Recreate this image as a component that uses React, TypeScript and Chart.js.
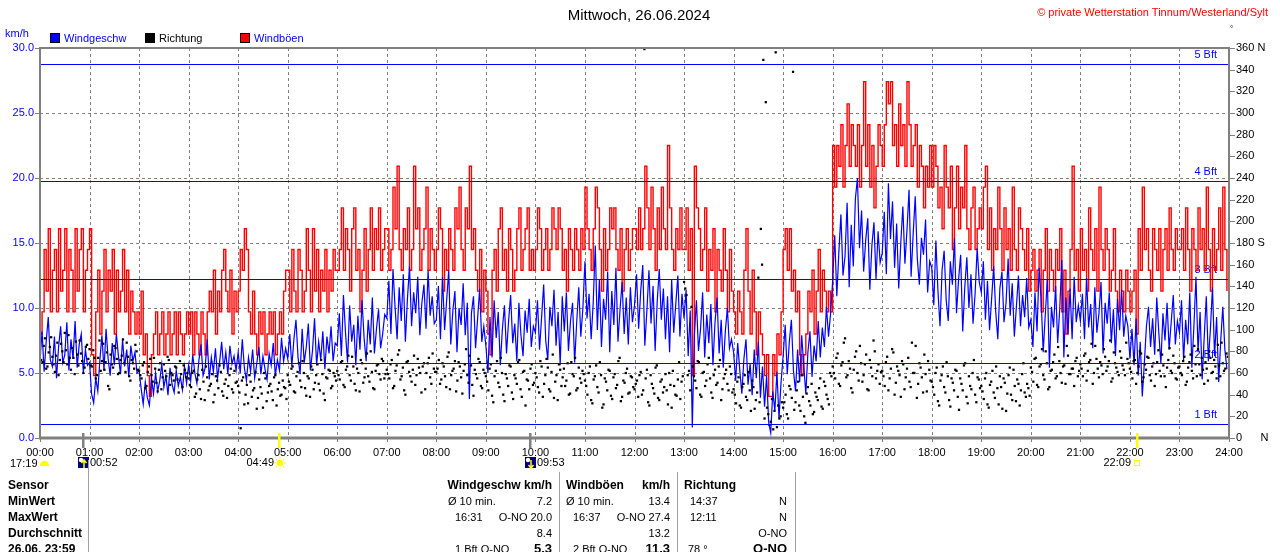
import React, { useEffect, useRef } from "react";
import { Chart, registerables } from "chart.js";

Chart.register(...registerables);

// ---------- data ----------
const hourLabels = [
  "00:00", "01:00", "02:00", "03:00", "04:00", "05:00", "06:00", "07:00", "08:00",
  "09:00", "10:00", "11:00", "12:00", "13:00", "14:00", "15:00", "16:00", "17:00",
  "18:00", "19:00", "20:00", "21:00", "22:00", "23:00", "24:00",
];

// one value every 2.5 minutes (24 per hour)
const speedStepMin = 2.5;
const speedKmh = [
  6.0, 8.2, 5.1, 7.4, 9.3, 6.0, 5.5, 7.8, 4.6, 7.0, 8.6, 5.8, 6.4, 8.9, 5.2, 7.6, 6.1, 9.0, 5.4, 7.2, 8.0, 5.0, 6.8, 5.6,
  5.8, 3.4, 2.7, 4.6, 3.6, 6.0, 7.9, 5.2, 8.4, 6.1, 4.8, 7.3, 5.6, 8.0, 6.3, 4.9, 7.6, 5.5, 6.8, 4.7, 7.1, 5.9, 6.6, 5.0,
  5.2, 3.8, 2.6, 4.3, 3.1, 2.5, 4.6, 3.4, 5.0, 3.6, 4.4, 5.7, 3.9, 4.8, 3.3, 5.4, 4.1, 3.5, 5.2, 4.0, 4.7, 3.7, 5.5, 4.2,
  5.6, 4.4, 6.4, 5.0, 4.2, 6.0, 7.2, 4.8, 5.4, 7.6, 4.5, 6.2, 5.1, 6.9, 4.6, 5.8, 7.4, 5.3, 6.6, 4.9, 7.1, 5.7, 6.3, 5.2,
  6.6, 5.0, 7.6, 5.4, 4.4, 6.2, 5.1, 6.8, 4.6, 5.7, 7.0, 4.9, 6.3, 5.3, 4.5, 6.5, 5.6, 7.3, 4.8, 6.0, 5.2, 7.7, 5.9, 6.9,
  6.1, 8.0, 5.5, 7.6, 9.1, 6.2, 4.9, 8.4, 5.8, 7.0, 8.8, 5.2, 6.7, 9.2, 5.6, 7.4, 6.0, 8.2, 5.3, 7.8, 6.5, 8.6, 5.9, 7.3,
  7.1, 9.6, 6.3, 11.0, 8.1, 5.8, 10.2, 7.4, 8.7, 5.6, 9.4, 6.8, 10.6, 7.7, 5.9, 9.1, 7.2, 10.8, 6.5, 8.4, 9.9, 6.9, 8.0, 9.5,
  9.2, 12.1, 8.0, 13.0, 10.1, 7.6, 11.6, 9.0, 12.6, 7.4, 10.7, 13.2, 8.6, 11.2, 9.6, 12.4, 7.9, 10.4, 11.8, 8.4, 12.9, 9.4, 10.9, 8.8,
  9.1, 11.7, 7.6, 12.4, 8.3, 10.6, 12.9, 7.2, 9.8, 11.3, 6.6, 10.0, 8.7, 11.9, 7.9, 10.4, 3.0, 9.6, 10.9, 6.9, 9.2, 11.5, 7.4, 8.6,
  7.1, 5.0, 9.3, 6.2, 10.6, 7.7, 9.7, 5.6, 8.4, 10.2, 6.5, 9.0, 11.0, 7.3, 8.8, 5.9, 10.4, 7.9, 6.3, 9.8, 8.1, 10.7, 7.0, 8.6,
  8.1, 10.6, 6.8, 9.3, 11.8, 7.5, 6.0, 10.1, 8.6, 11.4, 7.1, 9.7, 5.6, 10.9, 8.2, 11.2, 6.7, 9.0, 10.4, 5.8, 8.9, 11.6, 7.8, 10.0,
  13.6, 9.2, 11.1, 7.6, 10.4, 14.8, 8.3, 12.2, 7.0, 10.7, 9.1, 12.8, 6.6, 11.3, 8.7, 13.1, 7.4, 9.9, 12.0, 8.0, 10.8, 7.2, 11.6, 8.9,
  10.2, 12.6, 8.4, 11.3, 13.3, 7.1, 9.8, 12.9, 8.8, 11.7, 6.7, 10.5, 13.0, 9.1, 11.5, 7.6, 10.9, 6.6, 12.2, 8.1, 10.3, 12.5, 7.8, 11.1,
  9.2, 11.4, 6.3, 9.8, 0.8, 7.9, 10.6, 6.7, 8.4, 11.2, 6.2, 9.5, 7.3, 10.3, 5.6, 8.9, 10.8, 6.5, 9.1, 5.4, 8.2, 10.0, 6.9, 7.6,
  6.6, 4.4, 7.3, 5.2, 3.4, 6.1, 7.6, 4.1, 5.7, 3.3, 6.8, 4.6, 7.4, 3.1, 5.5, 2.4, 4.8, 1.2, 0.4, 3.6, 2.1, 5.1, 1.5, 4.3,
  6.3, 8.7, 4.9, 7.4, 9.1, 5.2, 3.6, 6.8, 4.3, 7.9, 5.5, 3.4, 6.6, 8.2, 4.7, 7.1, 5.9, 9.0, 6.2, 8.5, 7.0, 10.1, 7.8, 9.6,
  12.1, 15.6, 10.9, 14.3, 17.2, 12.5, 14.0, 18.1, 11.6, 16.4, 13.2, 18.4, 20.0, 14.6, 17.5, 12.8, 15.2, 16.9, 11.4, 14.8, 16.6, 12.2, 15.9, 13.5,
  14.2, 17.4, 12.6, 19.6, 15.3, 18.2, 13.1, 16.5, 11.5, 15.0, 17.8, 13.4, 16.0, 19.1, 12.4, 15.7, 18.6, 13.8, 11.8, 15.4, 14.1, 16.8, 11.2, 13.6,
  13.1, 10.2, 15.2, 11.3, 8.6, 12.9, 14.4, 10.6, 9.0, 13.6, 11.8, 15.4, 9.6, 12.2, 14.1, 8.2, 11.6, 13.9, 10.0, 12.6, 8.8, 11.1, 14.6, 12.0,
  11.2, 13.6, 9.1, 12.1, 8.3, 10.7, 13.2, 9.7, 7.6, 11.5, 12.8, 8.9, 10.4, 13.8, 9.4, 11.9, 7.8, 10.1, 12.5, 8.6, 11.0, 9.3, 12.3, 8.5,
  9.1, 7.0, 11.2, 8.2, 13.1, 10.6, 6.6, 9.5, 12.2, 5.4, 10.1, 8.5, 11.7, 7.3, 9.9, 13.7, 6.2, 10.8, 8.0, 11.5, 7.6, 12.4, 8.9, 10.2,
  9.0, 11.1, 7.6, 12.3, 8.5, 10.3, 6.9, 11.6, 8.1, 9.6, 12.0, 6.5, 10.4, 8.8, 11.2, 7.3, 9.9, 6.3, 10.7, 8.3, 11.4, 7.8, 9.4, 8.6,
  6.1, 8.4, 5.6, 9.2, 4.8, 7.4, 3.2, 5.8, 8.6, 10.1, 7.0, 9.2, 6.4, 10.8, 8.1, 5.7, 9.6, 7.5, 10.4, 6.8, 8.9, 11.0, 7.2, 9.0,
  8.1, 10.6, 6.0, 9.1, 7.2, 11.2, 5.4, 8.6, 12.4, 6.6, 9.7, 4.5, 7.8, 10.9, 5.9, 8.4, 11.6, 6.3, 9.3, 4.3, 7.5, 10.1, 6.8, 5.3,
];

const gustKmh = [
  8.0, 9.7, 14.5, 11.3, 16.1, 9.7, 12.9, 14.5, 9.7, 16.1, 11.3, 12.9, 16.1, 9.7, 14.5, 12.9, 9.7, 16.1, 11.3, 14.5, 16.1, 9.7, 12.9, 14.5,
  16.1, 6.4, 4.8, 9.7, 12.9, 8.0, 11.3, 14.5, 9.7, 12.9, 11.3, 14.5, 8.0, 12.9, 9.7, 11.3, 14.5, 9.7, 12.9, 8.0, 11.3, 9.7, 8.0, 9.7,
  8.0, 11.3, 6.4, 8.0, 4.8, 3.2, 6.4, 8.0, 9.7, 6.4, 8.0, 9.7, 6.4, 8.0, 9.7, 6.4, 8.0, 9.7, 6.4, 9.7, 8.0, 6.4, 8.0, 9.7,
  8.0, 9.7, 6.4, 9.7, 8.0, 6.4, 9.7, 8.0, 6.4, 9.7, 11.3, 9.7, 12.9, 8.0, 11.3, 9.7, 12.9, 14.5, 11.3, 9.7, 12.9, 8.0, 11.3, 9.7,
  11.3, 14.5, 12.9, 16.1, 14.5, 9.7, 8.0, 11.3, 8.0, 6.4, 9.7, 8.0, 9.7, 6.4, 8.0, 9.7, 8.0, 9.7, 6.4, 8.0, 9.7, 8.0, 11.3, 12.9,
  12.9, 9.7, 14.5, 11.3, 9.7, 14.5, 12.9, 9.7, 11.3, 16.1, 12.9, 9.7, 16.1, 11.3, 14.5, 9.7, 12.9, 11.3, 14.5, 9.7, 12.9, 11.3, 14.5, 12.9,
  12.9, 14.5, 17.7, 12.9, 16.1, 14.5, 11.3, 16.1, 17.7, 12.9, 14.5, 9.7, 12.9, 16.1, 11.3, 14.5, 17.7, 12.9, 16.1, 14.5, 17.7, 12.9, 14.5, 16.1,
  16.1, 12.9, 14.5, 19.3, 16.1, 20.9, 14.5, 12.9, 16.1, 14.5, 17.7, 12.9, 14.5, 20.9, 16.1, 17.7, 12.9, 14.5, 16.1, 19.3, 12.9, 16.1, 14.5, 12.9,
  14.5, 17.7, 16.1, 11.3, 14.5, 12.9, 16.1, 14.5, 12.9, 17.7, 16.1, 19.3, 14.5, 12.9, 17.7, 16.1, 20.9, 14.5, 16.1, 12.9, 11.3, 14.5, 9.7, 12.9,
  11.3, 8.0, 6.4, 12.9, 14.5, 11.3, 16.1, 17.7, 12.9, 14.5, 11.3, 16.1, 14.5, 11.3, 12.9, 16.1, 17.7, 12.9, 14.5, 16.1, 17.7, 12.9, 14.5, 12.9,
  14.5, 17.7, 16.1, 12.9, 14.5, 16.1, 12.9, 14.5, 17.7, 16.1, 14.5, 17.7, 16.1, 12.9, 14.5, 11.3, 16.1, 14.5, 12.9, 16.1, 14.5, 12.9, 16.1, 14.5,
  19.3, 16.1, 14.5, 12.9, 16.1, 19.3, 17.7, 14.5, 11.3, 16.1, 12.9, 14.5, 17.7, 16.1, 17.7, 14.5, 12.9, 16.1, 11.3, 14.5, 16.1, 12.9, 14.5, 16.1,
  16.1, 14.5, 17.7, 14.5, 16.1, 20.9, 17.7, 14.5, 19.3, 16.1, 12.9, 17.7, 14.5, 19.3, 16.1, 14.5, 22.5, 17.7, 14.5, 12.9, 16.1, 14.5, 17.7, 14.5,
  14.5, 17.7, 12.9, 16.1, 4.8, 20.9, 17.7, 16.1, 12.9, 14.5, 17.7, 11.3, 14.5, 12.9, 16.1, 9.7, 14.5, 12.9, 11.3, 16.1, 12.9, 9.7, 14.5, 11.3,
  9.7, 8.0, 11.3, 9.7, 8.0, 12.9, 16.1, 11.3, 8.0, 12.9, 9.7, 6.4, 9.7, 8.0, 6.4, 4.8, 6.4, 3.2, 3.2, 6.4, 4.8, 8.0, 6.4, 9.7,
  14.5, 16.1, 12.9, 16.1, 11.3, 12.9, 9.7, 11.3, 6.4, 4.8, 6.4, 8.0, 11.3, 9.7, 12.9, 8.0, 11.3, 14.5, 9.7, 12.9, 11.3, 9.7, 11.3, 9.7,
  22.5, 19.3, 22.5, 20.9, 24.1, 19.3, 22.5, 25.7, 20.9, 24.1, 22.5, 20.9, 24.1, 19.3, 22.5, 27.4, 20.9, 24.1, 19.3, 22.5, 17.7, 20.9, 24.1, 22.5,
  20.9, 24.1, 27.4, 25.7, 27.4, 22.5, 24.1, 20.9, 25.7, 22.5, 24.1, 20.9, 27.4, 24.1, 20.9, 22.5, 24.1, 19.3, 22.5, 20.9, 17.7, 20.9, 19.3, 22.5,
  19.3, 22.5, 20.9, 17.7, 19.3, 16.1, 22.5, 19.3, 17.7, 20.9, 14.5, 17.7, 20.9, 16.1, 19.3, 17.7, 22.5, 16.1, 14.5, 17.7, 19.3, 14.5, 16.1, 17.7,
  16.1, 19.3, 20.9, 14.5, 17.7, 12.9, 16.1, 14.5, 19.3, 16.1, 12.9, 17.7, 14.5, 16.1, 12.9, 19.3, 14.5, 12.9, 17.7, 16.1, 14.5, 12.9, 16.1, 11.3,
  12.9, 14.5, 11.3, 12.9, 14.5, 9.7, 12.9, 16.1, 11.3, 14.5, 12.9, 11.3, 14.5, 12.9, 16.1, 9.7, 12.9, 8.0, 11.3, 14.5, 20.9, 12.9, 14.5, 11.3,
  16.1, 12.9, 14.5, 11.3, 17.7, 14.5, 12.9, 16.1, 11.3, 19.3, 14.5, 12.9, 16.1, 14.5, 11.3, 12.9, 16.1, 11.3, 9.7, 12.9, 11.3, 9.7, 12.9, 11.3,
  9.7, 11.3, 12.9, 8.0, 16.1, 12.9, 19.3, 14.5, 16.1, 12.9, 11.3, 16.1, 14.5, 12.9, 16.1, 11.3, 14.5, 16.1, 12.9, 17.7, 14.5, 12.9, 16.1, 14.5,
  14.5, 16.1, 12.9, 17.7, 14.5, 11.3, 16.1, 14.5, 12.9, 17.7, 14.5, 16.1, 12.9, 19.3, 14.5, 11.3, 16.1, 12.9, 14.5, 17.7, 12.9, 19.3, 14.5, 11.3,
];

// wind direction, one reading every 3 minutes (20 per hour) at :00, :03, ...
const dirStepMin = 3;
const directionDeg = [
  78, 70, 92, 66, 84, 75, 61, 88, 72, 80, 97, 68, 74, 83, 59, 77, 90, 71, 65, 86,
  82, 66, 74, 58, 90, 71, 63, 79, 45, 68, 85, 73, 60, 76, 69, 88, 57, 72, 64, 80,
  62, 55, 70, 48, 66, 58, 74, 51, 63, 45, 68, 57, 72, 60, 53, 65, 42, 59, 67, 56,
  55, 47, 62, 41, 58, 36, 52, 66, 44, 50, 33, 57, 46, 61, 39, 54, 48, 64, 42, 51,
  48, 9, 56, 40, 32, 52, 44, 61, 37, 47, 28, 55, 42, 50, 35, 58, 45, 39, 53, 46,
  58, 49, 66, 42, 61, 53, 71, 46, 57, 38, 63, 51, 68, 44, 59, 35, 55, 62, 48, 57,
  62, 54, 71, 47, 66, 58, 75, 50, 64, 43, 69, 56, 78, 52, 61, 45, 67, 59, 73, 55,
  63, 55, 72, 48, 67, 81, 57, 44, 70, 61, 52, 76, 58, 65, 42, 69, 60, 74, 50, 64,
  61, 72, 54, 66, 47, 79, 58, 64, 43, 70, 56, 62, 82, 51, 67, 39, 59, 73, 48, 63,
  57, 44, 68, 33, 62, 51, 74, 40, 59, 48, 66, 36, 55, 70, 45, 61, 30, 53, 64, 49,
  60, 47, 71, 38, 58, 65, 43, 77, 52, 35, 63, 56, 48, 69, 41, 59, 74, 46, 55, 62,
  53, 40, 66, 32, 57, 47, 70, 28, 55, 44, 62, 36, 59, 49, 74, 38, 51, 64, 42, 56,
  45, 53, 58, 40, 359, 63, 30, 50, 41, 67, 35, 54, 47, 44, 60, 28, 48, 39, 70, 52,
  144, 132, 62, 121, 57, 46, 70, 38, 61, 53, 74, 42, 58, 49, 66, 35, 55, 63, 44, 59,
  45, 32, 56, 28, 50, 38, 61, 25, 47, 35, 148, 193, 349, 310, 22, 15, 8, 356, 30, 20,
  28, 40, 18, 45, 338, 33, 52, 25, 38, 14, 47, 30, 22, 42, 35, 55, 27, 48, 36, 60,
  66, 55, 78, 48, 70, 92, 58, 64, 42, 75, 60, 85, 52, 68, 45, 72, 57, 80, 62, 50,
  62, 48, 75, 55, 82, 40, 66, 58, 71, 45, 64, 52, 88, 60, 37, 69, 56, 77, 43, 63,
  52, 40, 65, 30, 58, 47, 70, 35, 55, 44, 62, 26, 50, 67, 38, 57, 45, 72, 33, 54,
  48, 36, 60, 28, 52, 42, 66, 31, 47, 55, 25, 58, 40, 63, 34, 50, 44, 69, 38, 46,
  65, 52, 74, 47, 68, 58, 80, 45, 62, 70, 55, 84, 60, 66, 50, 76, 59, 64, 71, 57,
  68, 57, 78, 62, 72, 50, 85, 64, 70, 59, 75, 66, 90, 55, 69, 61, 80, 67, 58, 73,
  64, 55, 72, 60, 80, 52, 68, 75, 58, 66, 48, 70, 62, 77, 57, 65, 83, 60, 69, 54,
  66, 58, 75, 52, 70, 62, 85, 57, 68, 74, 50, 64, 80, 60, 72, 55, 67, 88, 62, 78,
];

// wind direction, the readings in between (at :01.5, :04.5, ...)
const dirOffsetMin = 1.5;
const directionDegBetween = [
  72, 85, 64, 79, 93, 68, 76, 58, 87, 70, 81, 95, 63, 74, 89, 67, 78, 60, 84, 73,
  67, 81, 55, 74, 62, 87, 70, 48, 77, 65, 83, 59, 72, 91, 61, 75, 53, 69, 86, 63,
  58, 67, 46, 61, 73, 52, 64, 43, 69, 56, 62, 75, 49, 58, 66, 54, 71, 47, 63, 60,
  49, 60, 38, 54, 45, 63, 35, 56, 48, 59, 40, 53, 67, 43, 50, 37, 58, 45, 62, 52,
  42, 53, 31, 49, 58, 38, 46, 27, 54, 41, 60, 34, 48, 43, 56, 30, 51, 40, 47, 36,
  52, 64, 43, 57, 69, 47, 60, 39, 55, 66, 45, 58, 50, 72, 41, 56, 63, 46, 60, 53,
  58, 70, 49, 63, 76, 53, 66, 44, 60, 72, 51, 64, 57, 80, 46, 62, 68, 54, 71, 59,
  59, 68, 46, 62, 77, 54, 65, 40, 71, 57, 63, 49, 73, 60, 66, 45, 69, 56, 78, 61,
  64, 50, 69, 57, 75, 45, 62, 71, 53, 66, 41, 68, 58, 76, 49, 63, 55, 70, 46, 60,
  52, 64, 39, 57, 71, 47, 60, 34, 55, 67, 42, 58, 50, 72, 38, 62, 54, 45, 68, 51,
  56, 42, 66, 50, 73, 45, 61, 37, 58, 68, 48, 64, 53, 40, 70, 57, 44, 65, 51, 59,
  48, 60, 35, 54, 67, 42, 58, 31, 52, 63, 39, 56, 46, 71, 34, 53, 60, 41, 57, 47,
  50, 38, 61, 44, 55, 33, 58, 46, 65, 37, 52, 42, 59, 31, 49, 62, 40, 54, 36, 57,
  138, 58, 44, 66, 53, 71, 40, 60, 48, 68, 55, 37, 63, 51, 72, 45, 59, 50, 66, 42,
  40, 52, 30, 47, 58, 35, 44, 53, 27, 42, 33, 160, 18, 28, 12, 36, 25, 10, 18, 33,
  33, 22, 48, 37, 26, 44, 30, 58, 20, 41, 34, 50, 24, 38, 46, 29, 52, 40, 31, 57,
  60, 74, 50, 67, 88, 56, 71, 46, 63, 80, 53, 69, 58, 77, 44, 65, 90, 55, 68, 61,
  57, 70, 44, 64, 79, 51, 62, 38, 68, 56, 74, 47, 60, 85, 50, 65, 42, 59, 71, 53,
  47, 60, 34, 53, 66, 42, 57, 29, 51, 63, 38, 55, 44, 69, 32, 48, 60, 40, 56, 46,
  43, 55, 31, 49, 62, 37, 46, 57, 27, 51, 41, 65, 35, 48, 54, 30, 59, 42, 50, 39,
  61, 73, 49, 66, 82, 54, 69, 47, 63, 77, 57, 71, 51, 67, 85, 59, 64, 48, 74, 62,
  64, 76, 53, 70, 87, 60, 73, 56, 67, 82, 62, 71, 52, 79, 65, 58, 74, 63, 88, 69,
  61, 71, 50, 66, 78, 56, 63, 74, 53, 69, 59, 81, 57, 67, 47, 72, 62, 76, 55, 65,
  60, 71, 49, 65, 77, 55, 68, 82, 58, 63, 70, 53, 74, 61, 66, 86, 57, 69, 64, 75,
];

const bftLevels = [1.08, 5.76, 12.24, 19.8, 28.8];
const bftLabels = ["1 Bft", "2 Bft", "3 Bft", "4 Bft", "5 Bft"];

const dirNames = { 0: "0      N", 180: "180 S", 360: "360 N" };

const eventTimes = ["00:52", "04:49", "09:53", "22:09"];
const eventKinds = ["moonrise", "sunrise", "moonset", "sunset"];

const tableRows = ["Sensor", "MinWert", "MaxWert", "Durchschnitt", "26.06. 23:59"];

// ---------- helpers ----------
const FONT = "'Liberation Sans', Arial, sans-serif";
const toMin = (t: string) => {
  const [h, m] = t.split(":").map(Number);
  return h * 60 + m;
};

const decorPlugin = {
  id: "decor",
  beforeDatasetsDraw(chart: any) {
    const { ctx, chartArea: a, scales } = chart;
    const xs = scales.x;
    const ys = scales.y;
    ctx.save();
    ctx.strokeStyle = "#808080";
    ctx.lineWidth = 1;
    ctx.setLineDash([3, 3]);
    xs.ticks.forEach((t: any) => {
      if (t.value <= xs.min || t.value >= xs.max) return;
      const px = Math.round(xs.getPixelForValue(t.value)) + 0.5;
      ctx.beginPath();
      ctx.moveTo(px, a.top);
      ctx.lineTo(px, a.bottom);
      ctx.stroke();
    });
    ys.ticks.forEach((t: any) => {
      if (t.value <= ys.min || t.value >= ys.max) return;
      const py = Math.round(ys.getPixelForValue(t.value)) + 0.5;
      ctx.beginPath();
      ctx.moveTo(a.left, py);
      ctx.lineTo(a.right, py);
      ctx.stroke();
    });
    ctx.setLineDash([]);
    ctx.fillStyle = "#0000ff";
    ctx.font = `11px ${FONT}`;
    ctx.textAlign = "right";
    ctx.textBaseline = "bottom";
    bftLevels.forEach((lv, i) => {
      const py = ys.getPixelForValue(lv);
      ctx.fillText(bftLabels[i], a.right - 12, py - 3);
    });
    ctx.restore();
  },
  afterDatasetsDraw(chart: any) {
    const { ctx, chartArea: a, scales } = chart;
    const xs = scales.x;
    const ys = scales.y;
    const ys2 = scales.y2;
    ctx.save();
    // Beaufort lines
    ctx.strokeStyle = "#0000ff";
    ctx.lineWidth = 1;
    bftLevels.forEach((lv) => {
      const py = Math.round(ys.getPixelForValue(lv)) + 0.5;
      ctx.beginPath();
      ctx.moveTo(a.left, py);
      ctx.lineTo(a.right, py);
      ctx.stroke();
    });
    // tick marks
    ctx.strokeStyle = "#808080";
    ctx.lineWidth = 1;
    ys.ticks.forEach((t: any) => {
      const py = Math.round(ys.getPixelForValue(t.value)) + 0.5;
      ctx.beginPath();
      ctx.moveTo(a.left - 5, py);
      ctx.lineTo(a.left, py);
      ctx.stroke();
    });
    ys2.ticks.forEach((t: any) => {
      const py = Math.round(ys2.getPixelForValue(t.value)) + 0.5;
      ctx.beginPath();
      ctx.moveTo(a.right, py);
      ctx.lineTo(a.right + 6, py);
      ctx.stroke();
    });
    xs.ticks.forEach((t: any) => {
      const px = Math.round(xs.getPixelForValue(t.value)) + 0.5;
      ctx.beginPath();
      ctx.moveTo(px, a.bottom);
      ctx.lineTo(px, a.bottom + 4);
      ctx.stroke();
    });
    // frame
    ctx.strokeStyle = "#808080";
    ctx.lineWidth = 2;
    ctx.beginPath();
    ctx.moveTo(a.left, a.bottom);
    ctx.lineTo(a.left, a.top);
    ctx.lineTo(a.right, a.top);
    ctx.lineTo(a.right, a.bottom);
    ctx.stroke();
    ctx.lineWidth = 3;
    ctx.beginPath();
    ctx.moveTo(a.left - 1, a.bottom);
    ctx.lineTo(a.right + 1, a.bottom);
    ctx.stroke();
    // sun / moon events
    ctx.font = `11px ${FONT}`;
    ctx.textBaseline = "middle";
    const ty = a.bottom + 25;
    eventTimes.forEach((t, i) => {
      const kind = eventKinds[i];
      const mx = Math.round(xs.getPixelForValue(toMin(t)));
      const isSun = kind.startsWith("sun");
      ctx.fillStyle = isSun ? "#ffff00" : "#808080";
      ctx.fillRect(mx - 1, a.bottom - 5, 2.5, 15);
      if (kind === "moonrise" || kind === "moonset") {
        ctx.fillStyle = "#000080";
        ctx.fillRect(mx - 5, ty - 6, 11, 11);
        ctx.fillStyle = "#ffffff";
        ctx.beginPath();
        ctx.arc(mx - 2, ty - 3, 2.2, 0, Math.PI * 2);
        ctx.fill();
        ctx.strokeStyle = "#ffff00";
        ctx.lineWidth = 1.5;
        ctx.beginPath();
        ctx.moveTo(mx + 1, ty + 5);
        ctx.lineTo(mx + 1, ty - 3);
        if (kind === "moonrise") {
          ctx.moveTo(mx - 1.5, ty);
          ctx.lineTo(mx + 1, ty - 3);
          ctx.lineTo(mx + 3.5, ty);
        } else {
          ctx.moveTo(mx - 1.5, ty + 2);
          ctx.lineTo(mx + 1, ty + 5);
          ctx.lineTo(mx + 3.5, ty + 2);
        }
        ctx.stroke();
        ctx.fillStyle = "#000000";
        ctx.textAlign = "left";
        ctx.fillText(t, mx + 7, ty);
      } else if (kind === "sunrise") {
        ctx.fillStyle = "#ffff00";
        ctx.strokeStyle = "#ffff00";
        ctx.lineWidth = 1;
        ctx.beginPath();
        ctx.arc(mx + 1, ty, 3.3, 0, Math.PI * 2);
        ctx.fill();
        for (let k = 0; k < 8; k++) {
          const ang = (k * Math.PI) / 4;
          ctx.beginPath();
          ctx.moveTo(mx + 1 + Math.cos(ang) * 4.3, ty + Math.sin(ang) * 4.3);
          ctx.lineTo(mx + 1 + Math.cos(ang) * 6, ty + Math.sin(ang) * 6);
          ctx.stroke();
        }
        ctx.fillStyle = "#000000";
        ctx.textAlign = "right";
        ctx.fillText(t, mx - 5, ty);
      } else {
        ctx.strokeStyle = "#ffff00";
        ctx.lineWidth = 1;
        ctx.strokeRect(mx - 2.5, ty - 2.5, 5, 5);
        ctx.fillStyle = "#000000";
        ctx.textAlign = "right";
        ctx.fillText(t, mx - 6, ty);
      }
    });
    ctx.restore();
  },
};

function ChartCanvas() {
  const ref = useRef<HTMLCanvasElement | null>(null);
  useEffect(() => {
    if (!ref.current) return;
    const noGrid = { display: false, drawTicks: false, tickLength: 0 };
    const dirPoints = [
      ...directionDeg.map((d, i) => ({ x: i * dirStepMin, y: d })),
      ...directionDegBetween.map((d, i) => ({ x: dirOffsetMin + i * dirStepMin, y: d })),
    ];
    const chart = new Chart(ref.current, {
      type: "line",
      data: {
        datasets: [
          {
            type: "scatter",
            label: "Richtung",
            yAxisID: "y2",
            data: dirPoints,
            pointStyle: "rect",
            pointRadius: 1.6,
            pointBackgroundColor: "#000000",
            pointBorderWidth: 0,
            showLine: false,
            order: 0,
          } as any,
          {
            label: "Windgeschw",
            yAxisID: "y",
            data: speedKmh.map((v, i) => ({ x: i * speedStepMin, y: v })),
            borderColor: "#0000ff",
            borderWidth: 1.2,
            pointRadius: 0,
            tension: 0,
            order: 1,
          },
          {
            label: "Windböen",
            yAxisID: "y",
            data: gustKmh.map((v, i) => ({ x: i * speedStepMin, y: v })),
            borderColor: "#ff0000",
            borderWidth: 1.4,
            pointRadius: 0,
            stepped: true,
            order: 2,
          },
        ],
      },
      options: {
        animation: false,
        responsive: false,
        devicePixelRatio: 1,
        layout: { padding: { top: 48, left: 0, right: 0, bottom: 0 } },
        plugins: { legend: { display: false }, tooltip: { enabled: false } },
        scales: {
          x: {
            type: "linear",
            min: 0,
            max: 1440,
            position: "bottom",
            afterFit: (s: any) => {
              s.height = 114;
            },
            grid: noGrid,
            border: { display: false },
            ticks: {
              stepSize: 60,
              autoSkip: false,
              maxRotation: 0,
              padding: 8,
              color: "#000000",
              font: { family: FONT, size: 11 },
              callback: (v: any) => hourLabels[Math.round(Number(v) / 60)] ?? "",
            },
          },
          y: {
            type: "linear",
            position: "left",
            min: 0,
            max: 30,
            afterFit: (s: any) => {
              s.width = 40;
            },
            grid: noGrid,
            border: { display: false },
            ticks: {
              stepSize: 5,
              padding: 6,
              color: "#0000ff",
              font: { family: FONT, size: 11 },
              callback: (v: any) => Number(v).toFixed(1),
            },
          },
          y2: {
            type: "linear",
            position: "right",
            min: 0,
            max: 360,
            afterFit: (s: any) => {
              s.width = 51;
            },
            grid: noGrid,
            border: { display: false },
            ticks: {
              stepSize: 20,
              autoSkip: false,
              padding: 7,
              color: "#000000",
              font: { family: FONT, size: 11 },
              callback: (v: any) => (dirNames as any)[Number(v)] ?? String(v),
            },
          },
        },
      },
      plugins: [decorPlugin as any],
    });
    return () => chart.destroy();
  }, []);
  return <canvas ref={ref} width={1280} height={552} style={{ position: "absolute", left: 0, top: 0 }} />;
}

const txt = (left: number, top: number, s: string, extra: any = {}) => (
  <div style={{ position: "absolute", left, top, whiteSpace: "pre", lineHeight: "14px", ...extra }}>{s}</div>
);
const rtxt = (right: number, top: number, s: string, extra: any = {}) => (
  <div style={{ position: "absolute", right: 1280 - right, top, whiteSpace: "pre", lineHeight: "14px", textAlign: "right", ...extra }}>{s}</div>
);

function Legend() {
  const sq = (left: number, color: string) => (
    <div style={{ position: "absolute", left, top: 33, width: 8, height: 8, background: color, border: "1px solid #000" }} />
  );
  return (
    <>
      {txt(5, 26, "km/h", { color: "#0000ff" })}
      {sq(50, "#0000ff")}
      {txt(64, 31, "Windgeschw", { color: "#0000ff" })}
      {sq(145, "#000000")}
      {txt(159, 31, "Richtung", { color: "#000000" })}
      {sq(240, "#ff0000")}
      {txt(254, 31, "Windböen", { color: "#0000ff" })}
    </>
  );
}

function Table() {
  const rowTop = (r: number) => 478 + r * 16;
  const b = { fontWeight: "bold", fontSize: 12 };
  const vline = (left: number, top: number) => (
    <div style={{ position: "absolute", left, top, width: 1, height: 552 - top, background: "#a0a0a0" }} />
  );
  return (
    <>
      {tableRows.map((r, i) => (
        <React.Fragment key={r}>{txt(8, rowTop(i), r, b)}</React.Fragment>
      ))}
      {vline(88, 460)}
      {vline(559, 472)}
      {vline(677, 472)}
      {vline(795, 472)}
      {rtxt(552, rowTop(0), "Windgeschw km/h", b)}
      {txt(448, rowTop(1), "Ø 10 min.")}
      {rtxt(552, rowTop(1), "7.2")}
      {txt(455, rowTop(2), "16:31")}
      {rtxt(552, rowTop(2), "O-NO 20.0")}
      {rtxt(552, rowTop(3), "8.4")}
      {txt(455, rowTop(4), "1 Bft O-NO")}
      {rtxt(552, rowTop(4), "5.3", { fontWeight: "bold", fontSize: 13 })}

      {txt(566, rowTop(0), "Windböen", b)}
      {rtxt(670, rowTop(0), "km/h", b)}
      {txt(566, rowTop(1), "Ø 10 min.")}
      {rtxt(670, rowTop(1), "13.4")}
      {txt(573, rowTop(2), "16:37")}
      {rtxt(670, rowTop(2), "O-NO 27.4")}
      {rtxt(670, rowTop(3), "13.2")}
      {txt(573, rowTop(4), "2 Bft O-NO")}
      {rtxt(670, rowTop(4), "11.3", { fontWeight: "bold", fontSize: 13 })}

      {txt(684, rowTop(0), "Richtung", b)}
      {txt(690, rowTop(1), "14:37")}
      {rtxt(787, rowTop(1), "N")}
      {txt(690, rowTop(2), "12:11")}
      {rtxt(787, rowTop(2), "N")}
      {rtxt(787, rowTop(3), "O-NO")}
      {txt(688, rowTop(4), "78 °")}
      {rtxt(787, rowTop(4), "O-NO", { fontWeight: "bold", fontSize: 13 })}
    </>
  );
}

export default function App() {
  return (
    <div
      style={{
        position: "absolute",
        left: 0,
        top: 0,
        width: 1280,
        height: 552,
        overflow: "hidden",
        background: "#ffffff",
        fontFamily: FONT,
        fontSize: 11,
        color: "#000000",
      }}
    >
      <ChartCanvas />
      <div style={{ position: "absolute", left: 0, top: 6, width: 1278, textAlign: "center", fontSize: 15, lineHeight: "18px" }}>
        Mittwoch, 26.06.2024
      </div>
      {rtxt(1268, 5, "© private Wetterstation Tinnum/Westerland/Sylt", { color: "#ff0000" })}
      {txt(1230, 22, "°", { fontSize: 8 })}
      <Legend />
      {txt(10, 456, "17:19")}
      <div style={{ position: "absolute", left: 40, top: 461, width: 9, height: 5, background: "#ffff00", borderRadius: "5px 5px 0 0" }} />
      <Table />
    </div>
  );
}
